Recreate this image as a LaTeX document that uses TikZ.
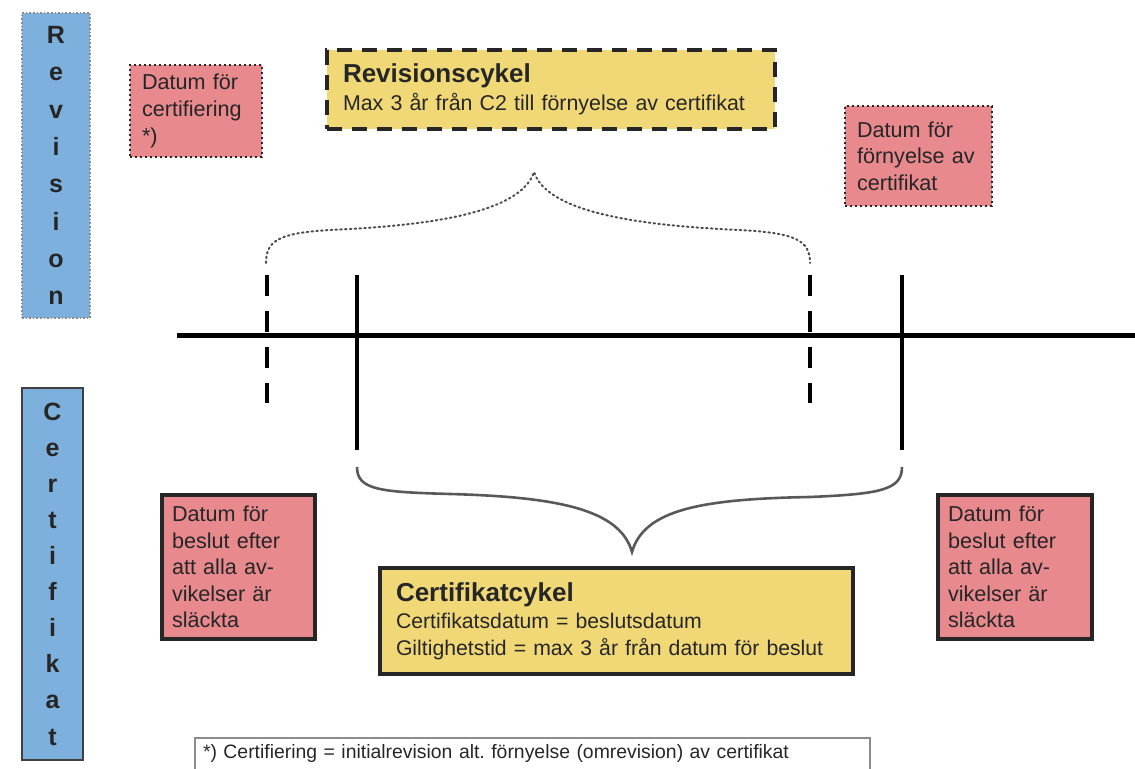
\documentclass[tikz,border=0pt]{standalone}
\usepackage{fontspec}
\setmainfont{Liberation Sans}
\frenchspacing
\definecolor{revblue}{RGB}{126,176,222}
\definecolor{datepink}{RGB}{232,137,142}
\definecolor{cycleyellow}{RGB}{241,216,118}
\begin{document}
\begin{tikzpicture}[x=0.5pt,y=-0.5pt,
    every node/.style={inner sep=0pt,outer sep=0pt,text=black!85},
    sidebox/.style={fill=revblue,align=center,line width=0.8pt},
    datebox/.style={fill=datepink,align=left,inner xsep=5pt,
      font=\fontsize{10.8}{13.3}\selectfont},
    datedotted/.style={draw=black!85,line width=1.1pt,dash pattern=on 1.1pt off 1.4pt},
    datesolid/.style={draw=black!85,line width=1.8pt},
    cyclebox/.style={fill=cycleyellow,align=left,draw=black!85,line width=2pt},
    timetick/.style={line width=2.4pt},
    cyclebrace/.style={line width=1.3pt,black!65}]
  \useasboundingbox (0,0) rectangle (1135,769);
  \clip (0,0) rectangle (1135,769);
  \node[sidebox,draw=black!45,densely dotted,minimum width=34pt,minimum height=152.5pt,
    font=\fontsize{12.5}{18.65}\selectfont\bfseries] (rev) at (56,165.5)
    {R\\e\\v\\i\\s\\i\\o\\n};
  \node[sidebox,draw=black!75,minimum width=30.5pt,minimum height=186pt,
    font=\fontsize{12.5}{18.05}\selectfont\bfseries] (cert) at (52.5,574)
    {C\\e\\r\\t\\i\\f\\i\\k\\a\\t};
  \node[datebox,datedotted,inner xsep=6pt,text width=54pt,minimum height=46pt] (certdate)
    at (196,111) {Datum för\\certifiering\\{*)}};
  \node[datebox,datedotted,inner xsep=6pt,text width=61.5pt,minimum height=50pt] (renewdate)
    at (918.5,156) {Datum för\\förnyelse av\\certifikat};
  \node[datebox,datesolid,text width=66.5pt,minimum height=72pt] (decisionL)
    at (238.5,567) {Datum för\\beslut efter\\att alla av-\\vikelser är\\släckta};
  \node[datebox,datesolid,text width=67pt,minimum height=72pt] (decisionR)
    at (1015,567) {Datum för\\beslut efter\\att alla av-\\vikelser är\\släckta};
  \node[cyclebox,dash pattern=on 7.5pt off 5pt,inner xsep=8pt,text width=208pt,
    minimum height=39.5pt,font=\fontsize{10.7}{14}\selectfont] (revcycle) at (551,89.5)
    {{\fontsize{13}{15}\selectfont\bfseries Revisionscykel}\\
     Max 3 år från C2 till förnyelse av certifikat};
  \node[cyclebox,inner xsep=8pt,text width=220.5pt,minimum height=53pt,
    font=\fontsize{10.6}{13.5}\selectfont] (certcycle) at (616.5,621)
    {{\fontsize{13}{15}\selectfont\bfseries Certifikatcykel}\\
     Certifikatsdatum = beslutsdatum\\
     Giltighetstid = max 3 år från datum för beslut};
  \node[draw=black!45,line width=0.6pt,anchor=north west,align=left,inner xsep=4pt,
    inner ysep=3pt,text height=7pt,text depth=12pt,text width=329.5pt,
    font=\fontsize{9.7}{12}\selectfont] (note) at (195,738)
    {*) Certifiering = initialrevision alt. förnyelse (omrevision) av certifikat};
  \coordinate (start) at (177,336);
  \coordinate (end) at (1135,336);
  \coordinate (r1t) at (267,275);
  \coordinate (r1b) at (267,403);
  \coordinate (c1t) at (357,275);
  \coordinate (c1b) at (357,450);
  \coordinate (r2t) at (810,275);
  \coordinate (r2b) at (810,403);
  \coordinate (c2t) at (902,275);
  \coordinate (c2b) at (902,450);
  \coordinate (rbl) at (266,263);
  \coordinate (rbr) at (810,263);
  \coordinate (cbl) at (357,467);
  \coordinate (cbr) at (902,467);
  \draw[line width=2.5pt] (start) -- (end);
  \draw[timetick,dash pattern=on 10.75pt off 7.25pt] (r1t) -- (r1b);
  \draw[timetick,dash pattern=on 10.75pt off 7.25pt] (r2t) -- (r2b);
  \draw[timetick] (c1t) -- (c1b);
  \draw[timetick] (c2t) -- (c2b);
  \draw[line width=1pt,black!70,dash pattern=on 0.8pt off 1.6pt,line cap=round]
    (rbl) .. controls (266,240) and (280,233) .. (330,230)
    .. controls (420,226) and (520,215) .. (534,172)
    .. controls (548,215) and (650,226) .. (740,230)
    .. controls (795,233) and (810,240) .. (rbr);
  \draw[cyclebrace]
    (cbl) .. controls (357,490) and (380,492) .. (450,494)
    .. controls (560,497) and (620,510) .. (632,552)
    .. controls (644,510) and (700,499) .. (810,497)
    .. controls (880,494) and (902,490) .. (cbr);
\end{tikzpicture}
\end{document}
